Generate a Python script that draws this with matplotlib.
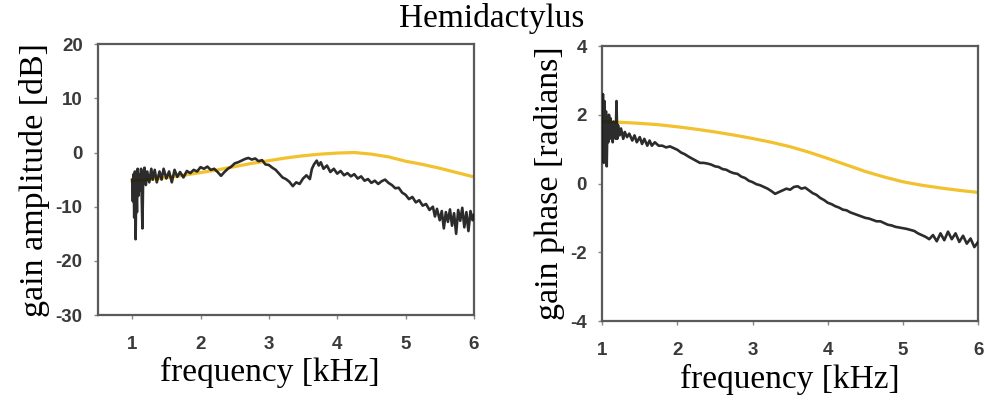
import matplotlib.pyplot as plt

plt.rcParams['axes.unicode_minus'] = False

# gain amplitude (left), measured
amp_freq = [1.00, 1.01, 1.02, 1.03, 1.04, 1.05, 1.06, 1.07, 1.08, 1.09, 1.10, 1.12, 1.13, 1.15, 1.16,
            1.18, 1.20, 1.22, 1.25, 1.28, 1.30, 1.33, 1.36, 1.40, 1.43, 1.46, 1.50, 1.54, 1.58, 1.62,
            1.66, 1.70, 1.75, 1.80, 1.85, 1.90, 1.95, 2.00, 2.05, 2.10, 2.15, 2.20, 2.25, 2.30, 2.35,
            2.40, 2.45, 2.50, 2.55, 2.60, 2.65, 2.70, 2.75, 2.80, 2.85, 2.90, 2.95, 3.00, 3.05, 3.10,
            3.15, 3.20, 3.25, 3.30, 3.35, 3.40, 3.45, 3.50, 3.55, 3.60, 3.63, 3.66, 3.70, 3.73, 3.76,
            3.80, 3.85, 3.90, 3.95, 4.00, 4.05, 4.10, 4.15, 4.20, 4.25, 4.30, 4.35, 4.40, 4.45, 4.50,
            4.55, 4.60, 4.65, 4.70, 4.75, 4.80, 4.85, 4.90, 4.95, 5.00, 5.05, 5.10, 5.15, 5.20, 5.25,
            5.30, 5.35, 5.40, 5.43, 5.46, 5.50, 5.53, 5.56, 5.59, 5.62, 5.65, 5.68, 5.71, 5.74, 5.77,
            5.80, 5.83, 5.86, 5.89, 5.92, 5.95, 5.98, 6.00]
amp_db = [-5, -9, -4, -12, -3.5, -16, -6, -11, -3, -8, -4, -7, -3, -14, -5,
          -2.8, -6, -3.5, -5.5, -3, -5, -3.2, -5.5, -3.5, -5, -3, -4.8, -3.5, -5.5, -3.2,
          -4.5, -3.6, -4.6, -3.4, -3.8, -3.2, -3.5, -2.7, -3.0, -2.6, -3.2, -3.0, -3.6, -4.3, -3.6,
          -3.0, -2.6, -2.0, -1.8, -1.5, -1.2, -1.0, -1.3, -1.1, -1.6, -1.4, -2.2, -2.3, -2.8, -3.2,
          -3.9, -4.6, -4.9, -5.4, -6.2, -5.5, -5.8, -4.8, -4.2, -4.9, -3.0, -2.2, -1.5, -2.4, -1.8,
          -3.0, -2.4, -3.6, -3.0, -3.9, -3.4, -4.2, -3.8, -4.4, -4.0, -4.8, -4.4, -5.2, -4.9, -5.6,
          -5.2, -5.8, -5.3, -5.0, -5.6, -6.0, -6.6, -6.5, -7.4, -7.8, -8.6, -8.2, -9.2, -8.8, -9.8,
          -9.5, -10.6, -10.0, -11.8, -10.4, -12.5, -10.8, -14.0, -11.0, -12.8, -10.5, -13.5, -11.2, -15.0, -10.6,
          -12.6, -10.2, -13.8, -11.0, -14.5, -10.8, -12.5, -11.5]

# model curves
model_freq = [1.0, 1.25, 1.5, 1.75, 2.0, 2.25, 2.5, 2.75, 3.0, 3.25, 3.5,
              3.75, 4.0, 4.25, 4.5, 4.75, 5.0, 5.25, 5.5, 5.75, 6.0]
model_amp = [-5.2, -5.0, -4.6, -4.2, -3.7, -3.2, -2.6, -2.0, -1.5, -1.0, -0.6,
             -0.3, -0.1, 0.0, -0.3, -0.8, -1.6, -2.2, -2.9, -3.7, -4.5]
model_phase = [1.80, 1.78, 1.75, 1.71, 1.65, 1.58, 1.50, 1.41, 1.31, 1.20, 1.07,
               0.91, 0.73, 0.54, 0.35, 0.19, 0.05, -0.05, -0.13, -0.20, -0.26]

# gain phase (right), measured
ph_freq = [1.00, 1.01, 1.02, 1.03, 1.04, 1.05, 1.06, 1.07, 1.08, 1.09, 1.10, 1.11, 1.12, 1.13, 1.14,
           1.15, 1.16, 1.17, 1.18, 1.19, 1.20, 1.21, 1.23, 1.25, 1.28, 1.30, 1.33, 1.36, 1.40, 1.43,
           1.46, 1.50, 1.53, 1.56, 1.60, 1.63, 1.66, 1.70, 1.75, 1.80, 1.85, 1.90, 1.95, 2.00, 2.05,
           2.10, 2.15, 2.20, 2.25, 2.30, 2.35, 2.40, 2.45, 2.50, 2.55, 2.60, 2.65, 2.70, 2.75, 2.80,
           2.85, 2.90, 2.95, 3.00, 3.05, 3.10, 3.15, 3.20, 3.25, 3.30, 3.35, 3.40, 3.45, 3.50, 3.55,
           3.60, 3.65, 3.70, 3.75, 3.80, 3.85, 3.90, 3.95, 4.00, 4.05, 4.10, 4.15, 4.20, 4.25, 4.30,
           4.35, 4.40, 4.45, 4.50, 4.55, 4.60, 4.65, 4.70, 4.75, 4.80, 4.85, 4.90, 4.95, 5.00, 5.05,
           5.10, 5.15, 5.20, 5.25, 5.30, 5.35, 5.40, 5.45, 5.50, 5.55, 5.60, 5.65, 5.70, 5.75, 5.80,
           5.85, 5.90, 5.95, 6.00]
ph_rad = [1.8, 2.6, 0.6, 2.4, 1.0, 2.1, 0.5, 1.9, 1.2, 2.0, 1.4, 1.9, 1.3, 1.7, 1.2,
          1.8, 1.4, 1.6, 1.3, 2.4, 1.3, 1.7, 1.4, 1.6, 1.3, 1.5, 1.35, 1.45, 1.25, 1.4,
          1.2, 1.35, 1.15, 1.3, 1.1, 1.25, 1.1, 1.2, 1.1, 1.1, 1.05, 1.08, 1.03, 0.98, 0.9,
          0.85, 0.78, 0.72, 0.66, 0.6, 0.6, 0.58, 0.55, 0.5, 0.48, 0.42, 0.4, 0.34, 0.3, 0.28,
          0.2, 0.16, 0.08, 0.04, -0.02, -0.05, -0.1, -0.15, -0.22, -0.3, -0.25, -0.2, -0.15, -0.18, -0.1,
          -0.08, -0.15, -0.12, -0.2, -0.28, -0.33, -0.42, -0.48, -0.56, -0.6, -0.66, -0.7, -0.76, -0.78, -0.84,
          -0.88, -0.92, -0.96, -1.0, -1.02, -1.06, -1.1, -1.1, -1.15, -1.2, -1.22, -1.26, -1.28, -1.3, -1.32,
          -1.35, -1.38, -1.45, -1.5, -1.55, -1.62, -1.5, -1.68, -1.45, -1.65, -1.4, -1.62, -1.45, -1.7, -1.52,
          -1.75, -1.6, -1.85, -1.7]

freq_ticks = [1, 2, 3, 4, 5, 6]
amp_ticks = [20, 10, 0, -10, -20, -30]
phase_ticks = [4, 2, 0, -2, -4]

black = '#151515'
gold = '#F2C12E'
spine_col = '#5a5a5a'
serif = 'Liberation Serif'

fig = plt.figure(figsize=(9.84, 4.05), dpi=100)
ax1 = fig.add_axes([0.0996, 0.222, 0.382, 0.669])
ax2 = fig.add_axes([0.612, 0.2074, 0.382, 0.679])

ax1.plot(model_freq, model_amp, color=gold, lw=2.3, zorder=2)
ax1.plot(amp_freq, amp_db, color=black, lw=1.9, alpha=0.9, zorder=3)
ax1.set_xlim(0.5, 6)
ax1.set_ylim(-30, 20)
ax1.set_yticks(amp_ticks)
ax1.set_ylabel('gain amplitude [dB]', family=serif, fontsize=24.5, labelpad=4)

ax2.plot(model_freq, model_phase, color=gold, lw=2.3, zorder=2)
ax2.plot(ph_freq, ph_rad, color=black, lw=1.9, alpha=0.9, zorder=3)
ax2.set_xlim(1, 6)
ax2.set_ylim(-4, 4)
ax2.set_yticks(phase_ticks)
ax2.set_ylabel('gain phase [radians]', family=serif, fontsize=24.5, labelpad=4)

for ax in (ax1, ax2):
    ax.set_xticks(freq_ticks)
    ax.set_xlabel('frequency [kHz]', family=serif, fontsize=24, labelpad=4)
    for s in ax.spines.values():
        s.set_color(spine_col)
        s.set_linewidth(1.6)
    ax.tick_params(axis='both', direction='out', length=3, width=1, color='#888888',
                   labelsize=13.5, labelcolor='#3a3a3a')
    ax.tick_params(axis='x', pad=12)
    ax.tick_params(axis='y', pad=8)
    for lab in ax.get_xticklabels() + ax.get_yticklabels():
        lab.set_family('Liberation Sans')
        lab.set_fontweight('bold')

ax1.xaxis.set_label_coords(0.457, -0.155)

fig.text(0.5, 0.955, 'Hemidactylus', family=serif, fontsize=24, ha='center', va='center')

fig.savefig('out.png', dpi=100)
